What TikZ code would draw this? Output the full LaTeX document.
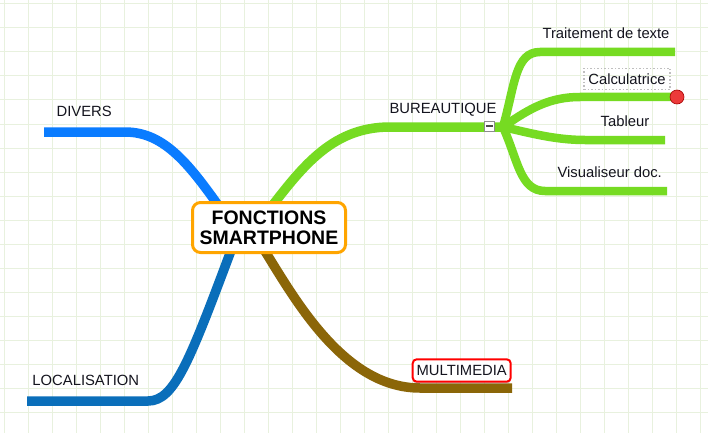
\documentclass[tikz,border=0pt]{standalone}
\usepackage{fontspec}
\setmainfont{Liberation Sans}
\usetikzlibrary{calc,shadows}
\definecolor{gridc}{RGB}{232,241,222}
\definecolor{divblue}{RGB}{10,124,255}
\definecolor{locblue}{RGB}{10,110,186}
\definecolor{bgreen}{RGB}{118,219,34}
\definecolor{mbrown}{RGB}{139,102,8}
\definecolor{rootorange}{RGB}{255,165,0}
\definecolor{dotred}{RGB}{236,58,58}
\definecolor{txt}{RGB}{20,20,30}
\pgfdeclarelayer{bg}
\pgfsetlayers{bg,main}
\begin{document}
\begin{tikzpicture}[x=1pt,y=-1pt,
  branch/.style={line width=9.5pt,line cap=butt},
  subbranch/.style={line width=8.5pt,line cap=butt,draw=bgreen},
  lbl/.style={font=\fontsize{14.8}{17}\selectfont,text=txt,inner sep=0pt,anchor=base},
  rootbox/.style={draw=rootorange,line width=3pt,rounded corners=8pt,fill=white,
    minimum width=153pt,minimum height=50pt,align=center,inner sep=0pt,
    font=\bfseries\fontsize{19.5}{20}\selectfont,text=black},
  mulbox/.style={draw=red,line width=2pt,rounded corners=4pt,fill=white,
    minimum width=98pt,minimum height=22.4pt,inner sep=0pt,
    font=\fontsize{14.8}{17}\selectfont,text=txt,
    drop shadow={shadow xshift=0pt,shadow yshift=-2pt,opacity=0.35}},
  calbox/.style={draw=black!25,dotted,line width=1.5pt,minimum width=86pt,
    minimum height=21pt,inner sep=0pt,font=\fontsize{14.8}{17}\selectfont,text=txt},
  collapsebox/.style={draw=black!45,fill=white,line width=0.8pt,minimum width=10pt,
    minimum height=10pt,inner sep=0pt},
  reddot/.style={circle,fill=dotred,draw=red!65!black,line width=0.6pt,
    minimum size=14pt,inner sep=0pt}]
\useasboundingbox (0,0) rectangle (708,433);
\begin{pgfonlayer}{bg}
\fill[white] (0,0) rectangle (708,433);
\foreach \v in {4,28,...,700} \draw[gridc,line width=1pt] (\v,0) -- (\v,433);
\foreach \v in {4,28,...,428} \draw[gridc,line width=1pt] (0,\v) -- (708,\v);
\end{pgfonlayer}

% central node
\node[rootbox] (root) at (269,227.5) {FONCTIONS\\SMARTPHONE};

% labels
\node[lbl] (divers) at (84.2,116.7) {DIVERS};
\node[lbl] (loc) at (85.8,385.7) {LOCALISATION};
\node[lbl] (bur) at (443,113.3) {BUREAUTIQUE};
\node[lbl] (trait) at (606,38.3) {Traitement de texte};
\node[calbox] (calc) at (627,78.8) {Calculatrice};
\node[lbl] (tab) at (625,126) {Tableur};
\node[lbl] (visu) at (609.7,177.3) {Visualiseur doc.};
\node[mulbox] (multi) at (461.7,370.5) {MULTIMEDIA};

% connector coordinates
\coordinate (divS) at ($(root.center)+(-44,-12.5)$);
\coordinate (divE) at (44,132);
\coordinate (locS) at ($(root.center)+(-34,12.5)$);
\coordinate (locE) at (27,401);
\coordinate (burS) at ($(root.center)+(-4,-12.5)$);
\coordinate (burJ) at (503,127);
\coordinate (traE) at (675,52);
\coordinate (calE) at (672,97);
\coordinate (tabE) at (665,140);
\coordinate (visE) at (667,191);
\coordinate (mulS) at ($(root.center)+(-11,12.5)$);
\coordinate (mulE) at (512,388);

\begin{pgfonlayer}{bg}
\draw[branch,divblue] (divS) .. controls (190,165) and (165,132) .. (125,132) -- (divE);
\draw[branch,locblue] (locS) .. controls (190,360) and (175,401) .. (148,401) -- (locE);
\draw[branch,bgreen] (burS) .. controls (300,170) and (330,127) .. (390,127) -- (burJ);
\draw[subbranch] (burJ) .. controls (515,85) and (515,52) .. (540,52) -- (traE);
\draw[subbranch] (burJ) .. controls (530,108) and (550,97) .. (580,97) -- (calE);
\draw[subbranch] (burJ) .. controls (530,133) and (555,140) .. (585,140) -- (tabE);
\draw[subbranch] (burJ) .. controls (518,160) and (520,191) .. (545,191) -- (visE);
\draw[branch,mbrown] (mulS) .. controls (290,290) and (340,388) .. (420,388) -- (mulE);
\end{pgfonlayer}

% collapse button and red dot
\node[collapsebox] (collapse) at (489.5,126) {};
\draw[black!70,line width=2pt] ($(collapse.center)+(-3.5,0)$) -- ($(collapse.center)+(3.5,0)$);
\node[reddot] (dot) at (calE -| 677,0) {};
\end{tikzpicture}
\end{document}
